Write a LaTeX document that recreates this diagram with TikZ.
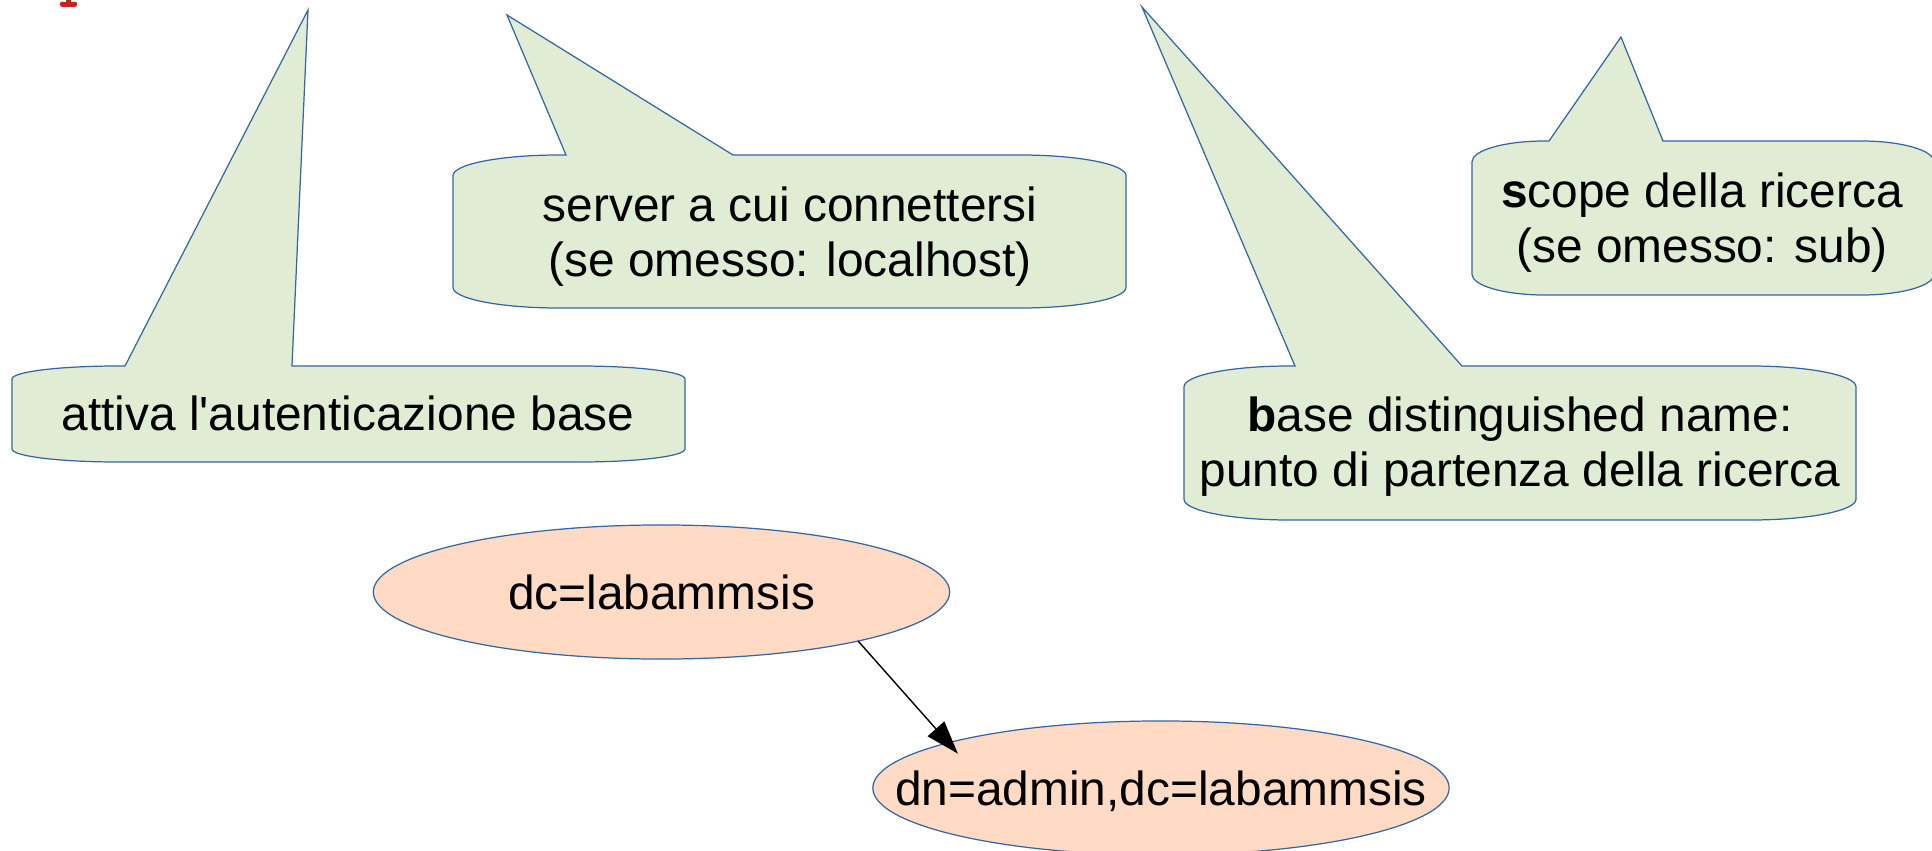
\documentclass[tikz,border=0pt]{standalone}
\usepackage{fontspec}
\setmainfont{Liberation Sans}
\usetikzlibrary{arrows.meta,shapes.geometric}

\definecolor{calloutfill}{HTML}{E0EDD4}
\definecolor{shapeline}{HTML}{3465A4}
\definecolor{entryfill}{HTML}{FFDBC5}
\definecolor{markred}{HTML}{C9211E}

% Rounded speech balloon with a pointed tail on its top edge.
% #1 left  #2 right  #3 top  #4 bottom
% #5 tail base left  #6 tail base right  #7,#8 tail tip
\newcommand\balloon[8]{%
  \pgfmathsetmacro\cRx{0.157*(#2-#1)}%
  \pgfmathsetmacro\cRy{0.135*(#4-#3)}%
  \pgfmathsetmacro\cKx{0.4477*\cRx}%
  \pgfmathsetmacro\cKy{0.4477*\cRy}%
  \draw[balloonstyle]
    (#1,{#3+\cRy}) .. controls (#1,{#3+\cKy}) and ({#1+\cKx},#3) .. ({#1+\cRx},#3)
    -- (#5,#3) -- (#7,#8) -- (#6,#3) -- ({#2-\cRx},#3)
    .. controls ({#2-\cKx},#3) and (#2,{#3+\cKy}) .. (#2,{#3+\cRy})
    -- (#2,{#4-\cRy})
    .. controls (#2,{#4-\cKy}) and ({#2-\cKx},#4) .. ({#2-\cRx},#4)
    -- ({#1+\cRx},#4)
    .. controls ({#1+\cKx},#4) and (#1,{#4-\cKy}) .. (#1,{#4-\cRy})
    -- cycle;}

\tikzset{
  balloonstyle/.style={draw=shapeline, fill=calloutfill, line width=0.35pt},
  % multi-line notes are placed by the baseline of their last line
  note/.style={anchor=base, align=center, inner sep=0pt, font=\fontsize{13.6}{15.4}\selectfont},
  entry/.style={ellipse, draw=shapeline, fill=entryfill, line width=0.35pt,
    minimum width=5.76cm, minimum height=1.34cm, inner sep=0pt, outer sep=0pt,
    text depth=0pt, font=\fontsize{13.6}{15.4}\selectfont},
  link/.style={draw=black, line width=0.4pt, -{Triangle[length=9.4pt,width=6.3pt]}}
}

\begin{document}
\begin{tikzpicture}[x=0.01cm, y=-0.01cm]
  \useasboundingbox (0,0) rectangle (1932,851);
  \clip (0,0) rectangle (1932,851);

  % red fragment at the top edge
  \fill[markred] (65.5,0) rectangle (70.5,3);
  \fill[markred] (62.5,1.5) rectangle (74.5,7);
  \fill[markred] (62.5,4.25) circle[x radius=2.75, y radius=2.75];
  \fill[markred] (74.5,4.25) circle[x radius=2.75, y radius=2.75];

  % speech balloons
  \balloon{12}{685}{366}{462}{125}{292}{308}{10}
  \balloon{453}{1126}{155}{308}{566}{733}{507}{15}
  \balloon{1184}{1856}{366}{520}{1295}{1462}{1142}{7}
  \balloon{1472}{1934}{141}{295}{1549}{1663}{1621}{37}

  \node[note] (auth) at (348,430) {attiva l\textquotesingle autenticazione base};
  \node[note] (host) at (790,276) {server a cui connettersi\\(se omesso: localhost)};
  \node[note] (base) at (1520,486) {\textbf{b}ase distinguished name:\\punto di partenza della ricerca};
  \node[note] (scope) at (1702,262) {\textbf{s}cope della ricerca\\(se omesso: sub)};

  % directory entries
  \node[entry] (root) at (661.5,592) {\makebox[0pt]{dc=labammsis}};
  \node[entry] (admin) at (1161,788) {\makebox[0pt]{dn=admin,dc=labammsis}};

  \draw[link, shorten >=-4.1pt] (root.-14) -- (admin.168.5);
\end{tikzpicture}
\end{document}
